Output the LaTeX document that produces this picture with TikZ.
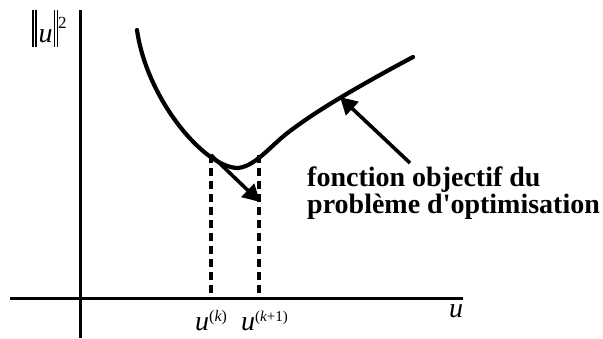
\documentclass[tikz,border=0pt]{standalone}
\usepackage{fontspec}
\setmainfont{Liberation Serif}[Ligatures=TeXOff]
\usetikzlibrary{arrows.meta}
\newcommand{\dbar}{\rule[-5pt]{1.3pt}{37pt}\hspace{1.8pt}\rule[-5pt]{1.3pt}{37pt}}
\begin{document}
\begin{tikzpicture}[x=1pt,y=-1pt,
  axis/.style={line width=3pt},
  curve/.style={line width=4.2pt,line cap=round,line join=round},
  guide/.style={line width=3.3pt,dash pattern=on 8pt off 5pt},
  pointer/.style={line width=3.6pt,-{Triangle[length=17pt,width=18pt]}},
  lbl/.style={inner sep=0pt,font=\fontsize{28}{30}\selectfont\itshape},
  txt/.style={inner sep=0pt,align=left,font=\fontsize{28}{24}\selectfont\bfseries}]
\useasboundingbox (0,0) rectangle (603,338);
\coordinate (xl) at (10,298);
\coordinate (xr) at (463,298);
\coordinate (yb) at (80,338);
\coordinate (yt) at (80,10);
\draw[axis] (xl) -- (xr);
\draw[axis] (yb) -- (yt);
\node[lbl,anchor=base west] (ylab) at (32,42) {\dbar\hspace{2pt}u\hspace{1pt}\dbar\raisebox{14pt}{\fontsize{17}{17}\selectfont\upshape 2}};
\node[lbl,anchor=base west] (xlab) at (449,317) {u};
\coordinate (c0) at (137,30);
\coordinate (cmin) at (238,168);
\coordinate (cmid) at (290,131);
\coordinate (cend) at (413,57);
\draw[curve] (c0) .. controls (147,100) and (205,168) .. (cmin)
  .. controls (256,166) and (270,146) .. (cmid)
  .. controls (310,116) and (340,96) .. (cend);
\coordinate (pk) at (211,155);
\coordinate (pk1) at (259,155);
\coordinate (bk) at (211,298);
\coordinate (bk1) at (259,298);
\draw[guide] (pk) -- (bk);
\draw[guide] (pk1) -- (bk1);
\coordinate (tip1) at (260,202);
\draw[pointer] (pk) -- (tip1);
\coordinate (tail2) at (410,163);
\coordinate (tip2) at (340,97);
\draw[pointer] (tail2) -- (tip2);
\node[lbl,anchor=base west] (uk) at (195,330) {u\raisebox{9pt}{\fontsize{16}{16}\selectfont\upshape(\itshape k\upshape)}};
\node[lbl,anchor=base west] (uk1) at (241,330) {u\raisebox{9pt}{\fontsize{15}{15}\selectfont\upshape(\itshape k\upshape+1)}};
\node[txt,anchor=base west] (desc) at (307,213) {fonction objectif du\\probl\`eme d'optimisation};
\end{tikzpicture}
\end{document}
